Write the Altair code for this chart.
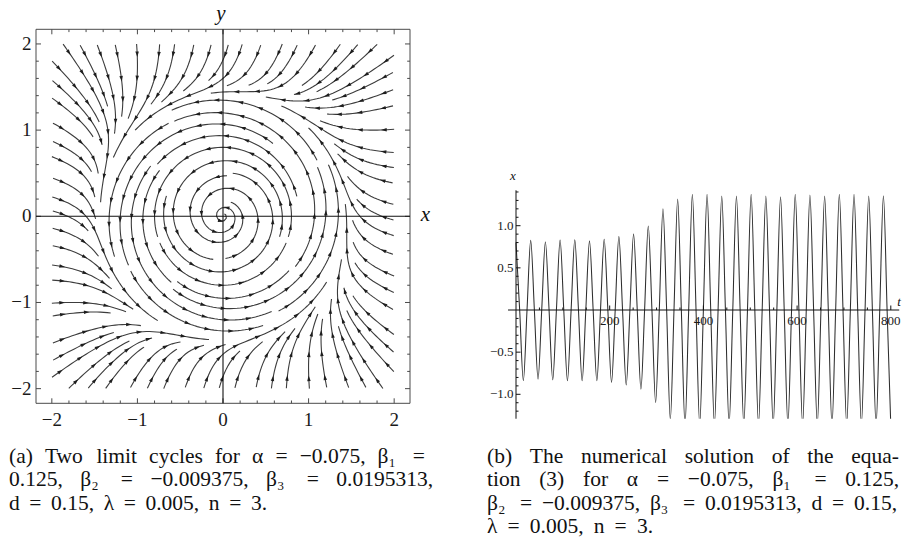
import math
import numpy as np
import pandas as pd
import altair as alt

alt.data_transformers.disable_max_rows()

# ===================== values =====================
# (b) time series x(t): one oscillation per PERIOD, extrema
PERIOD = 31.37
PEAK_X = [0.800, 0.826, 0.810, 0.830, 0.834, 0.820, 0.840, 0.873, 0.900, 0.996,
          1.200, 1.316, 1.372, 1.372, 1.352, 1.352, 1.372, 1.352, 1.344, 1.372,
          1.364, 1.352, 1.372, 1.372, 1.352, 1.356]
TROUGH_X = [-0.838, -0.820, -0.830, -0.840, -0.840, -0.840, -0.860, -0.890, -0.940, -1.100,
            -1.300, -1.360, -1.360, -1.360, -1.360, -1.360, -1.360, -1.360, -1.360, -1.360,
            -1.360, -1.360, -1.360, -1.360, -1.360, -1.360]
T_RANGE = [-17, 818]          # plot range of panel (b), t
XB_RANGE = [-1.29, 1.42]      # plot range of panel (b), x
T_TICKS = [200, 400, 600, 800]
T_TICK_LABELS = ["200", "400", "600", "800"]
XB_TICKS = [-1.0, -0.5, 0.5, 1.0]
XB_TICK_LABELS = ["\u22121.0", "\u22120.5", "0.5", "1.0"]

# (a) phase portrait
A_TICKS = [-2, -1, 0, 1, 2]
A_TICK_LABELS = ["\u22122", "\u22121", "0", "1", "2"]
FIELD_RANGE = 2.0             # streamlines drawn on [-2,2]^2
FRAME_X = 2.185
FRAME_Y = 2.17
INNER_R2, OUTER_R2 = 0.64, 2.045     # squared radii of the two limit cycles (0.80, 1.43)
SPIRAL_RATE = 0.20                   # decay rate of the focus at the origin
OUTER_PULL = 1.40                    # extra attraction outside the outer cycle

CAPTION_A = ["(a) Two limit cycles for \u03b1 = \u22120.075, \u03b2\u2081 =",
             "0.125, \u03b2\u2082 = \u22120.009375, \u03b2\u2083 = 0.0195313,",
             "d = 0.15, \u03bb = 0.005, n = 3."]
CAPTION_B = ["(b) The numerical solution of the equa-",
             "tion (3) for \u03b1 = \u22120.075, \u03b2\u2081 = 0.125,",
             "\u03b2\u2082 = \u22120.009375, \u03b2\u2083 = 0.0195313, d = 0.15,",
             "\u03bb = 0.005, n = 3."]

# ===================== layout (pixels on the page) =====================
PAGE0 = 8
A_W, B_W, H = 448, 446, 531
A_LEFT, A_RIGHT, A_TOP, A_BOTTOM = 36.0, 410.0, 29.3, 403.3
ASX = (A_RIGHT - A_LEFT) / (2 * FRAME_X)
ASY = (A_BOTTOM - A_TOP) / (2 * FRAME_Y)


def pa(px, py):
    return (-FRAME_X + (px - A_LEFT) / ASX, FRAME_Y - (py - A_TOP) / ASY)


A_XDOM = [pa(PAGE0, 0)[0], pa(PAGE0 + A_W, 0)[0]]
A_YDOM = [pa(0, PAGE0 + H)[1], pa(0, PAGE0)[1]]

B_T0, B_TSC, B_Y0, B_YSC = 516.0, 93.7 / 200.0, 310.0, 84.3


def pb(px, py):
    return ((px - B_T0) / B_TSC, (B_Y0 - py) / B_YSC)


B_XDOM = [pb(PAGE0 + A_W, 0)[0], pb(PAGE0 + A_W + B_W, 0)[0]]
B_YDOM = [pb(0, PAGE0 + H)[1], pb(0, PAGE0)[1]]

SERIF = "Liberation Serif"
CAP_SIZE = 21.5
CAP_LINES_Y = [456.5, 480.0, 503.5, 526.5]
CAP_A_X0, CAP_A_WIDTHS = 9.0, [416, 424, 258]
CAP_B_X0, CAP_B_WIDTHS = 487.0, [412, 412, 410, 166]

# Times / Liberation Serif advance widths (1/1000 em) for justified captions
_W = {" ": 250, "(": 333, ")": 333, "-": 333, ",": 250, ".": 250, "=": 564, "\u2212": 564,
      "a": 444, "b": 500, "c": 444, "d": 500, "e": 444, "f": 333, "g": 500, "h": 500, "i": 278,
      "l": 278, "m": 778, "n": 500, "o": 500, "q": 500, "r": 333, "s": 389, "t": 278, "u": 500,
      "w": 722, "y": 500, "T": 611, "\u03b1": 530, "\u03b2": 500, "\u03bb": 480,
      "\u2081": 580, "\u2082": 580, "\u2083": 580}


def word_w(w):
    return sum(_W.get(c, 500) for c in w) * CAP_SIZE / 1000.0


def justify(lines, x0, widths):
    out = []
    for li, (line, target) in enumerate(zip(lines, widths)):
        words = line.split(" ")
        ww = [word_w(w) for w in words]
        gap = (target - sum(ww)) / max(len(words) - 1, 1)
        x = x0
        for w, wv in zip(words, ww):
            out.append((x, CAP_LINES_Y[li], w))
            x += wv + gap
    return out


# ===================== streamlines for panel (a) =====================
H_STEP = 0.02
DSEP = 0.14
DTEST = 0.07
LMAX = 1.5
MIN_LEN = 0.12
ARROW_STEP = 0.26
C_RAD = -SPIRAL_RATE / (INNER_R2 * OUTER_R2)


def unit_field(x, y):
    u2 = x * x + y * y
    h = C_RAD * (u2 - INNER_R2) * (u2 - OUTER_R2)
    extra = OUTER_PULL * max(0.0, u2 - OUTER_R2) / max(u2, 1e-9)
    u = -y + x * h - extra * x ** 3
    v = x + y * h - extra * y ** 3
    n = math.hypot(u, v)
    if n < 1e-12:
        return 0.0, 0.0
    return u / n, v / n


def rk4(x, y, h):
    k1 = unit_field(x, y)
    k2 = unit_field(x + 0.5 * h * k1[0], y + 0.5 * h * k1[1])
    k3 = unit_field(x + 0.5 * h * k2[0], y + 0.5 * h * k2[1])
    k4 = unit_field(x + h * k3[0], y + h * k3[1])
    return (x + h * (k1[0] + 2 * k2[0] + 2 * k3[0] + k4[0]) / 6,
            y + h * (k1[1] + 2 * k2[1] + 2 * k3[1] + k4[1]) / 6)


def cell(x, y):
    return (int(math.floor(x / DSEP)), int(math.floor(y / DSEP)))


grid = {}


def near_grid(gr, x, y, d, pos=None):
    i, j = cell(x, y)
    d2 = d * d
    for di in (-1, 0, 1):
        for dj in (-1, 0, 1):
            for p in gr.get((i + di, j + dj), ()):
                if pos is not None and abs(p[2] - pos) <= 4 * DTEST:
                    continue
                if (p[0] - x) ** 2 + (p[1] - y) ** 2 < d2:
                    return True
    return False


def trace(x0, y0, sign, own):
    pts = []
    x, y, pos = x0, y0, 0.0
    while abs(pos) < LMAX:
        nx, ny = rk4(x, y, sign * H_STEP)
        npos = pos + sign * H_STEP
        if abs(nx) > FIELD_RANGE or abs(ny) > FIELD_RANGE:
            break
        if math.hypot(nx, ny) < 0.02 or math.hypot(nx - x, ny - y) < 1e-6:
            break
        if near_grid(grid, nx, ny, DTEST):
            break
        if near_grid(own, nx, ny, DTEST, npos):
            break
        own.setdefault(cell(nx, ny), []).append((nx, ny, npos))
        pts.append((nx, ny))
        x, y, pos = nx, ny, npos
    return pts


seeds = []
for step in (0.8, 0.4, 0.2, 0.1):
    vals = np.arange(-FIELD_RANGE + step / 2, FIELD_RANGE, step)
    for sy in vals[::-1]:
        for sx in vals:
            seeds.append((float(sx), float(sy)))

lines = []
for sx, sy in seeds:
    if math.hypot(sx, sy) < 0.03 or near_grid(grid, sx, sy, DSEP):
        continue
    own = {cell(sx, sy): [(sx, sy, 0.0)]}
    fwd = trace(sx, sy, 1, own)
    bwd = trace(sx, sy, -1, own)
    line = bwd[::-1] + [(sx, sy)] + fwd
    if (len(line) - 1) * H_STEP < MIN_LEN:
        continue
    lines.append(line)
    for p in line:
        grid.setdefault(cell(*p), []).append((p[0], p[1], 0.0))

rows, arrows = [], []
for lid, line in enumerate(lines):
    n = len(line)
    keep = list(range(0, n, 2))
    if keep[-1] != n - 1:
        keep.append(n - 1)
    for k, i in enumerate(keep):
        rows.append({"lid": lid, "i": k, "x": round(line[i][0], 4), "y": round(line[i][1], 4)})
    total = (n - 1) * H_STEP
    s = ARROW_STEP * 0.5
    while s < total - 0.04:
        i = int(round(s / H_STEP))
        i = min(max(i, 1), n - 2)
        dx = (line[i + 1][0] - line[i - 1][0]) * ASX
        dy = -(line[i + 1][1] - line[i - 1][1]) * ASY
        ang = math.degrees(math.atan2(dx, -dy)) % 360
        arrows.append({"x": line[i][0], "y": line[i][1], "ang": ang})
        s += ARROW_STEP

stream_df = pd.DataFrame(rows)
arrow_df = pd.DataFrame(arrows)

# ===================== panel (a) chart =====================
AX = alt.Scale(domain=A_XDOM, nice=False, zero=False)
AY = alt.Scale(domain=A_YDOM, nice=False, zero=False)


def ax_enc(f="x"):
    return alt.X(f"{f}:Q", scale=AX, axis=None)


def ay_enc(f="y"):
    return alt.Y(f"{f}:Q", scale=AY, axis=None)


streams = alt.Chart(stream_df).mark_line(color="#3c3c3c", strokeWidth=1.1).encode(
    x=ax_enc(), y=ay_enc(), detail="lid:N", order=alt.Order("i:Q"))

heads = alt.Chart(arrow_df).mark_point(
    shape="M0,-1L0.62,1L-0.62,1Z", filled=True, size=32, color="#1e1e1e", opacity=1
).encode(x=ax_enc(), y=ay_enc(), angle=alt.Angle("ang:Q", scale=None))

maj_a = [float(v) for v in A_TICKS]
min_a = [round(-2 + 0.2 * k, 2) for k in range(21) if abs(round(-2 + 0.2 * k, 2) % 1) > 1e-6]
segs = [
    (-FRAME_X, -FRAME_Y, FRAME_X, -FRAME_Y), (-FRAME_X, FRAME_Y, FRAME_X, FRAME_Y),
    (-FRAME_X, -FRAME_Y, -FRAME_X, FRAME_Y), (FRAME_X, -FRAME_Y, FRAME_X, FRAME_Y),
]
for vals, plen in ((maj_a, 5.0), (min_a, 2.8)):
    lx, ly = plen / ASX, plen / ASY
    for v in vals:
        segs += [(v, -FRAME_Y, v, -FRAME_Y + ly), (v, FRAME_Y, v, FRAME_Y - ly),
                 (-FRAME_X, v, -FRAME_X + lx, v), (FRAME_X, v, FRAME_X - lx, v)]
frame_df = pd.DataFrame(segs, columns=["x", "y", "x2", "y2"])
frame = alt.Chart(frame_df).mark_rule(color="#4a4a4a", strokeWidth=1).encode(
    x=ax_enc(), y=ay_enc(), x2="x2:Q", y2="y2:Q")

axes_a_df = pd.DataFrame([(-FRAME_X, 0, FRAME_X, 0), (0, -FRAME_Y, 0, FRAME_Y)],
                         columns=["x", "y", "x2", "y2"])
axes_a = alt.Chart(axes_a_df).mark_rule(color="#111111", strokeWidth=1.1).encode(
    x=ax_enc(), y=ay_enc(), x2="x2:Q", y2="y2:Q")

lab_left = pd.DataFrame({"x": [pa(31.5, 0)[0]] * 5, "y": maj_a, "t": A_TICK_LABELS})
lab_bottom = pd.DataFrame({"x": maj_a, "y": [pa(0, 420.0)[1]] * 5, "t": A_TICK_LABELS})
tl_left = alt.Chart(lab_left).mark_text(font=SERIF, fontSize=19, align="right", baseline="middle",
                                         color="#1a1a1a").encode(x=ax_enc(), y=ay_enc(), text="t:N")
tl_bottom = alt.Chart(lab_bottom).mark_text(font=SERIF, fontSize=19, align="center", baseline="middle",
                                             color="#1a1a1a").encode(x=ax_enc(), y=ay_enc(), text="t:N")
ax_names_a = pd.DataFrame({"x": [pa(221.0, 0)[0], pa(425.5, 0)[0]],
                           "y": [pa(0, 19.5)[1], pa(0, 221.0)[1]], "t": ["y", "x"]})
names_a = alt.Chart(ax_names_a).mark_text(font=SERIF, fontSize=21, fontStyle="italic", clip=True,
                                          align="center", baseline="alphabetic", color="#111").encode(
    x=ax_enc(), y=ay_enc(), text="t:N")
cap_a_rows = justify(CAPTION_A, CAP_A_X0, CAP_A_WIDTHS)
cap_a_df = pd.DataFrame({"x": [pa(r[0], 0)[0] for r in cap_a_rows],
                         "y": [pa(0, r[1])[1] for r in cap_a_rows],
                         "t": [r[2] for r in cap_a_rows]})
cap_a = alt.Chart(cap_a_df).mark_text(font=SERIF, fontSize=CAP_SIZE, align="left", baseline="middle",
                                      color="#111").encode(x=ax_enc(), y=ay_enc(), text="t:N")

panel_a = alt.layer(streams, heads, frame, axes_a, tl_left, tl_bottom, names_a, cap_a).properties(
    width=A_W, height=H)

# ===================== panel (b) chart =====================
BX = alt.Scale(domain=B_XDOM, nice=False, zero=False)
BY = alt.Scale(domain=B_YDOM, nice=False, zero=False)


def bx_enc(f="t"):
    return alt.X(f"{f}:Q", scale=BX, axis=None)


def by_enc(f="x"):
    return alt.Y(f"{f}:Q", scale=BY, axis=None)


ts_rows = []
for k in range(len(PEAK_X)):
    ts_rows.append((k * PERIOD, PEAK_X[k]))
    ts_rows.append(((k + 0.25) * PERIOD, 0.0))
    ts_rows.append(((k + 0.5) * PERIOD, TROUGH_X[k]))
    if k < len(PEAK_X) - 1:
        ts_rows.append(((k + 0.75) * PERIOD, 0.0))
ts_df = pd.DataFrame(ts_rows, columns=["t", "x"])
curve = alt.Chart(ts_df).mark_line(interpolate="monotone", color="#2e2e2e", strokeWidth=1.05).encode(
    x=bx_enc(), y=by_enc())

mask_df = pd.DataFrame({"t": [T_RANGE[0] - 5], "t2": [T_RANGE[1] + 5],
                        "x": [XB_RANGE[0]], "x2": [XB_RANGE[0] - 0.4]})
mask = alt.Chart(mask_df).mark_rect(color="white", opacity=1).encode(
    x=bx_enc(), x2="t2:Q", y=by_enc(), y2="x2:Q")

bsegs = [(T_RANGE[0], 0.0, T_RANGE[1], 0.0), (0.0, XB_RANGE[0], 0.0, XB_RANGE[1])]
yt_major = [float(v) for v in XB_TICKS]
yt_minor = [round(-1.2 + 0.1 * k, 1) for k in range(27)]
yt_minor = [v for v in yt_minor if abs(v) > 1e-6 and all(abs(v - m) > 1e-6 for m in yt_major)]
tt_minor = [50 * k for k in range(1, 17) if (50 * k) % 200 != 0]
for vals, plen in ((yt_major, 4.5), (yt_minor, 2.5)):
    for v in vals:
        bsegs.append((0.0, v, plen / B_TSC, v))
for vals, plen in (([float(v) for v in T_TICKS], 4.5), (tt_minor, 2.5)):
    for v in vals:
        bsegs.append((float(v), 0.0, float(v), plen / B_YSC))
baxes_df = pd.DataFrame(bsegs, columns=["t", "x", "t2", "x2"])
baxes = alt.Chart(baxes_df).mark_rule(color="#111111", strokeWidth=1).encode(
    x=bx_enc(), y=by_enc(), x2="t2:Q", y2="x2:Q")

by_lab = pd.DataFrame({"t": [pb(513.5, 0)[0]] * len(XB_TICKS), "x": yt_major, "s": XB_TICK_LABELS})
bt_lab = pd.DataFrame({"t": [float(v) for v in T_TICKS], "x": [pb(0, 320.5)[1]] * len(T_TICKS),
                       "s": T_TICK_LABELS})
b_ylab = alt.Chart(by_lab).mark_text(font=SERIF, fontSize=13, align="right", baseline="middle",
                                     color="#1a1a1a").encode(x=bx_enc(), y=by_enc(), text="s:N")
b_tlab = alt.Chart(bt_lab).mark_text(font=SERIF, fontSize=13, align="center", baseline="middle",
                                     color="#1a1a1a").encode(x=bx_enc(), y=by_enc(), text="s:N")
b_names_df = pd.DataFrame({"t": [pb(513, 0)[0], pb(899.0, 0)[0]], "x": [pb(0, 175.5)[1], pb(0, 302.0)[1]],
                           "s": ["x", "t"]})
b_names = alt.Chart(b_names_df).mark_text(font=SERIF, fontSize=13, fontStyle="italic", align="center",
                                          baseline="middle", color="#111").encode(
    x=bx_enc(), y=by_enc(), text="s:N")
cap_b_rows = justify(CAPTION_B, CAP_B_X0, CAP_B_WIDTHS)
cap_b_df = pd.DataFrame({"t": [pb(r[0], 0)[0] for r in cap_b_rows],
                         "x": [pb(0, r[1])[1] for r in cap_b_rows],
                         "s": [r[2] for r in cap_b_rows]})
cap_b = alt.Chart(cap_b_df).mark_text(font=SERIF, fontSize=CAP_SIZE, align="left", baseline="middle",
                                      color="#111").encode(x=bx_enc(), y=by_enc(), text="s:N")

panel_b = alt.layer(curve, mask, baxes, b_ylab, b_tlab, b_names, cap_b).properties(width=B_W, height=H)

chart = alt.hconcat(panel_a, panel_b, spacing=0).properties(
    padding={"left": 0, "top": 0, "right": 0, "bottom": 0}
).configure_view(strokeWidth=0)

chart.save("out.html", embed_options={"renderer": "svg", "actions": False})
